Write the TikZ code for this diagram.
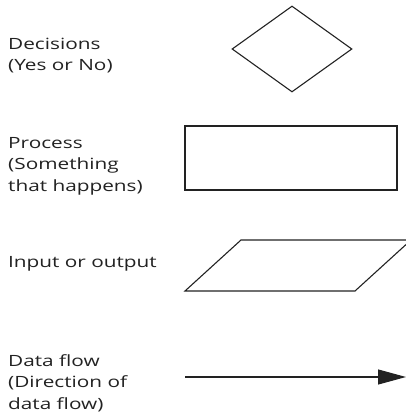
\documentclass[tikz,border=0pt]{standalone}
\usepackage{fontspec}
\setmainfont{Open Sans}
\usetikzlibrary{shapes.geometric,arrows.meta}
\definecolor{ink}{HTML}{222222}
\tikzset{
  legend/.style={anchor=base west, inner sep=0pt, text=ink,
    font=\fontsize{15.5}{21.5}\selectfont},
  symbol/.style={draw=ink, line width=1.1pt, inner sep=0pt},
}
% legend captions are set wide: stretch them horizontally
\newcommand{\legendtext}[1]{\scalebox{1.34}[1]{\begin{tabular}[t]{@{}l@{}}#1\end{tabular}}}
\begin{document}
\begin{tikzpicture}[x=1pt,y=-1pt]
  \useasboundingbox (0,0) rectangle (406,412);
  \clip (0,0) rectangle (406,412);

  % labels
  \node[legend] (tdec)  at (8,49)  {\legendtext{Decisions\\(Yes or No)}};
  \node[legend] (tproc) at (8,148) {\legendtext{Process\\(Something\\that happens)}};
  \node[legend] (tio)   at (8,267) {\legendtext{Input or output}};
  \node[legend] (tflow) at (8,366) {\legendtext{Data flow\\(Direction of\\data flow)}};

  % decision symbol
  \node[symbol, diamond, minimum width=120pt, minimum height=86pt] (dec) at (292,49) {};

  % process symbol
  \node[symbol, rectangle, minimum width=212pt, minimum height=64pt] (proc) at (291,158) {};

  % input/output symbol
  \coordinate (ioA) at (185,291);
  \coordinate (ioB) at (355,291);
  \coordinate (ioC) at (411,240);
  \coordinate (ioD) at (241,240);
  \draw[draw=ink, line width=1.1pt, line join=miter] (ioA) -- (ioB) -- (ioC) -- (ioD) -- cycle;

  % data flow arrow
  \coordinate (fA) at (185,377);
  \coordinate (fB) at (406,377);
  \draw[draw=ink, line width=1.1pt, -{Triangle[length=28pt,width=15pt]}] (fA) -- (fB);
\end{tikzpicture}
\end{document}
